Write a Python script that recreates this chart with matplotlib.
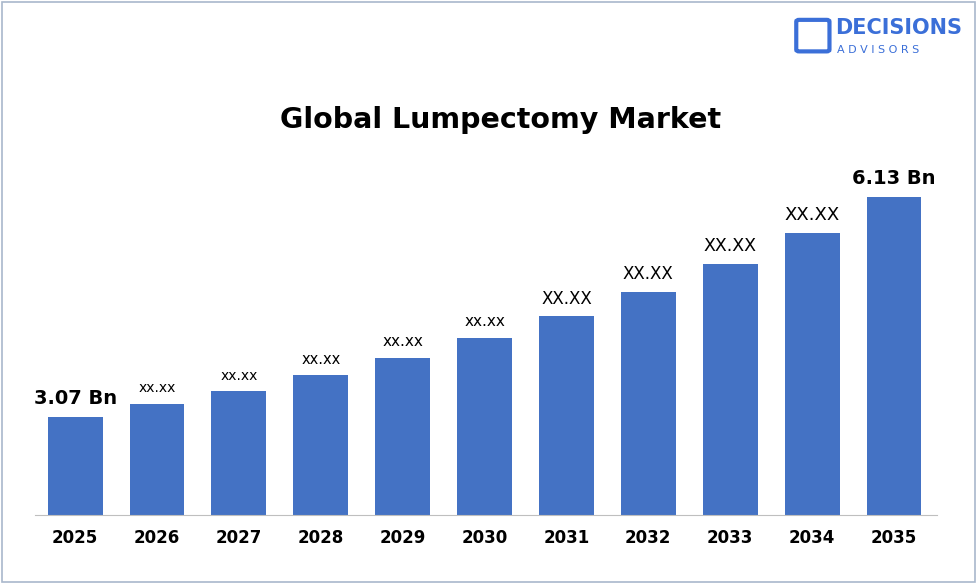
import matplotlib.pyplot as plt
from matplotlib.patches import Rectangle, FancyBboxPatch

years = ['2025','2026','2027','2028','2029','2030','2031','2032','2033','2034','2035']
values = [3.07,3.25,3.43,3.65,3.89,4.17,4.47,4.81,5.20,5.63,6.13]
labels = ['3.07 Bn','xx.xx','xx.xx','xx.xx','xx.xx','xx.xx','XX.XX','XX.XX','XX.XX','XX.XX','6.13 Bn']
lsizes = [14,10,10,10.5,11,11,12,12,12.5,13,14]

fig = plt.figure(figsize=(9.77,5.84), dpi=100)
fig.patches.append(Rectangle((0.002,0.003),0.996,0.994,transform=fig.transFigure,fill=False,ec='#a9b8cc',lw=1.2))
ax = fig.add_axes([0.036,0.118,0.923,0.62])
ax.bar(range(len(years)), values, width=0.67, color='#4472c4')
ax.set_ylim(1.707, 1.707+(6.13-1.707)*362/318)
ax.set_xlim(-0.488,10.525)
for i,(v,l,s) in enumerate(zip(values,labels,lsizes)):
    bold = 'Bn' in l
    ax.text(i, v+0.12, l, ha='center', va='bottom', fontsize=s, fontweight='bold' if bold else 'normal')
ax.set_xticks(range(len(years)))
ax.set_xticklabels(years, fontsize=12, fontweight='bold')
ax.tick_params(axis='x', length=0, pad=10)
ax.set_yticks([])
for sp in ['top','right','left']:
    ax.spines[sp].set_visible(False)
ax.spines['bottom'].set_color('#bfbfbf')
fig.text(0.512,0.795,'Global Lumpectomy Market',ha='center',va='center',fontsize=20.5,fontweight='bold')
fig.text(0.855,0.952,'DECISIONS',ha='left',va='center',fontsize=15,fontweight='bold',color='#3b6fd8')
fig.text(0.857,0.915,'A D V I S O R S',ha='left',va='center',fontsize=8,color='#3b6fd8')
fig.patches.append(FancyBboxPatch((0.818,0.915),0.028,0.048,boxstyle='round,pad=0.003',transform=fig.transFigure,fill=False,ec='#3b6fd8',lw=3))
fig.savefig('out.png')
